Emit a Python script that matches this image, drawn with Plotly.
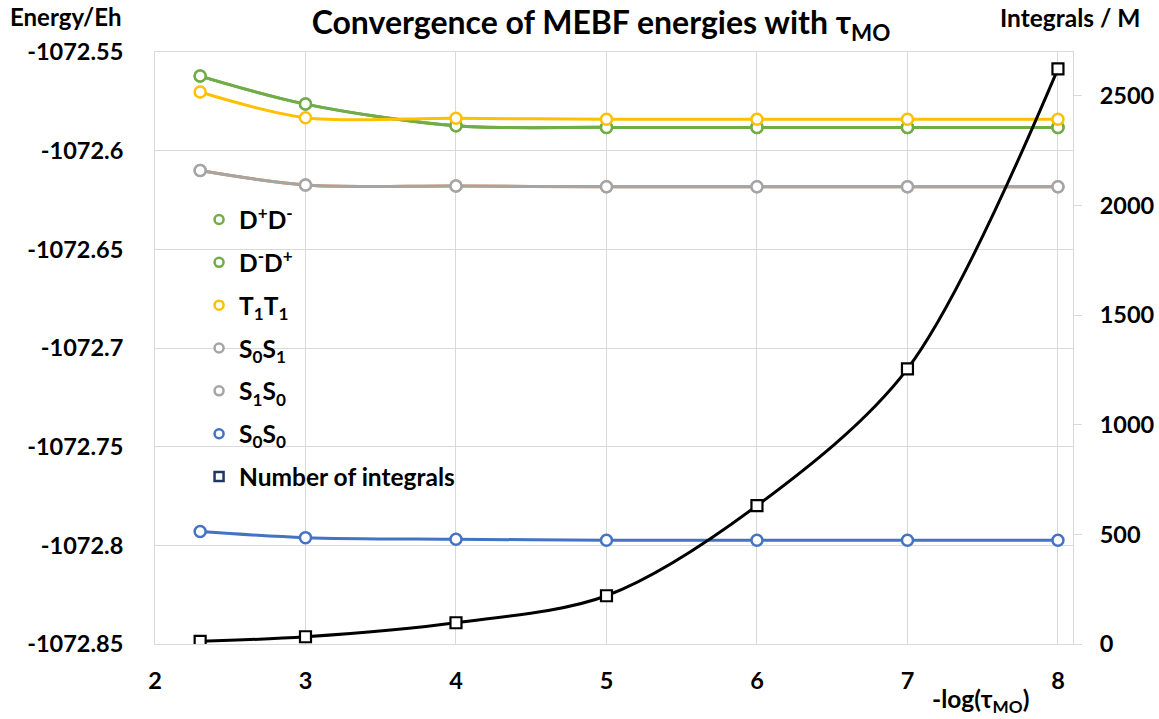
import plotly.graph_objects as go

x_vals = [2.3, 3, 4, 5, 6, 7, 8]
dpdm = [-1072.5622, -1072.5764, -1072.5874, -1072.5882, -1072.5882, -1072.5882, -1072.5882]
dmdp = [-1072.5622, -1072.5764, -1072.5874, -1072.5882, -1072.5882, -1072.5882, -1072.5882]
t1t1 = [-1072.5703, -1072.5833, -1072.5836, -1072.5841, -1072.5841, -1072.5841, -1072.5841]
s0s1 = [-1072.6101, -1072.6174, -1072.6179, -1072.6183, -1072.6183, -1072.6183, -1072.6183]
s1s0 = [-1072.6101, -1072.6174, -1072.6179, -1072.6183, -1072.6183, -1072.6183, -1072.6183]
s0s0 = [-1072.7930, -1072.7961, -1072.7969, -1072.7974, -1072.7974, -1072.7974, -1072.7974]
n_integrals = [12, 33, 97, 220, 631, 1255, 2623]

left_ticks = [-1072.85, -1072.8, -1072.75, -1072.7, -1072.65, -1072.6, -1072.55]
left_ticktext = ["-1072.85", "-1072.8", "-1072.75", "-1072.7", "-1072.65", "-1072.6", "-1072.55"]
right_ticks = [0, 500, 1000, 1500, 2000, 2500]
x_ticks = [2, 3, 4, 5, 6, 7, 8]

FONT = "Lato"
GRID = "#D9D9D9"
TICK_SIZE = 23.5
LEG_SIZE = 24.5

series = [
    ("D<sup>+</sup>D<sup>-</sup>", dpdm, "#70AD47", "#70AD47"),
    ("D<sup>-</sup>D<sup>+</sup>", dmdp, "#70AD47", "#70AD47"),
    ("T<sub>1</sub>T<sub>1</sub>", t1t1, "#FFC000", "#FFC000"),
    ("S<sub>0</sub>S<sub>1</sub>", s0s1, "#ED7D31", "#A5A5A5"),
    ("S<sub>1</sub>S<sub>0</sub>", s1s0, "#A5A5A5", "#A5A5A5"),
    ("S<sub>0</sub>S<sub>0</sub>", s0s0, "#4472C4", "#4472C4"),
]

fig = go.Figure()
for i, (name, ys, lc, mc) in enumerate(series):
    fig.add_trace(go.Scatter(
        x=x_vals, y=ys, name=name, mode="lines+markers",
        line=dict(color=lc, width=3, shape="spline", smoothing=0.9),
        marker=dict(symbol="circle", size=11, color="white",
                    line=dict(color=mc, width=2.5)),
        showlegend=False, yaxis="y",
    ))

fig.add_trace(go.Scatter(
    x=x_vals, y=n_integrals, name="Number of integrals", mode="lines+markers",
    line=dict(color="black", width=3, shape="spline", smoothing=0.9),
    marker=dict(symbol="square", size=11, color="white",
                line=dict(color="black", width=2.2)),
    showlegend=False, yaxis="y2",
))

# legend entries (marker only, as in the reference legend)
legend_items = [(name, mc, "circle") for (name, ys, lc, mc) in series]
legend_items.append(("Number of integrals", "#1F3864", "square"))
for i, (name, mc, sym) in enumerate(legend_items):
    fig.add_trace(go.Scatter(
        x=[None], y=[None], name=name, mode="markers",
        marker=dict(symbol=sym, size=9, color="white", line=dict(color=mc, width=2.5)),
        legendgroup=f"g{i}", showlegend=True,
    ))

fig.update_layout(
    width=1159, height=719,
    margin=dict(l=155, r=86, t=52, b=75, autoexpand=False),
    paper_bgcolor="white", plot_bgcolor="white",
    font=dict(family=FONT, size=TICK_SIZE, color="black", weight=700),
    showlegend=True,
    legend=dict(x=0.048, y=0.755, xanchor="left", yanchor="top",
                bgcolor="rgba(0,0,0,0)", tracegroupgap=8,
                font=dict(family=FONT, size=LEG_SIZE, color="black", weight=700),
                itemwidth=30),
    title=dict(text="Convergence of MEBF energies with τ<sub>MO</sub>",
               x=601 / 1159, xref="container", xanchor="center",
               y=1 - 23 / 719, yref="container", yanchor="middle",
               font=dict(family=FONT, size=32, color="black", weight=700)),
    xaxis=dict(range=[2, 8.1], tickvals=x_ticks, ticktext=[str(v) for v in x_ticks],
               showgrid=True, gridcolor=GRID, gridwidth=1,
               showline=True, linecolor=GRID, linewidth=1, mirror=True,
               ticks="", ticklabelstandoff=16, zeroline=False, automargin=False,
               tickfont=dict(family=FONT, size=TICK_SIZE, weight=700)),
    yaxis=dict(range=[-1072.85, -1072.55], tickvals=left_ticks, ticktext=left_ticktext,
               showgrid=True, gridcolor=GRID, gridwidth=1,
               showline=True, linecolor=GRID, linewidth=1, mirror=True,
               ticks="", ticklabelstandoff=26, zeroline=False, automargin=False,
               tickfont=dict(family=FONT, size=TICK_SIZE, weight=700)),
    yaxis2=dict(range=[0, 2700], tickvals=right_ticks,
                overlaying="y", side="right", showgrid=False, zeroline=False,
                showline=False, ticks="outside", ticklen=8, tickcolor=GRID,
                ticklabelstandoff=13, automargin=False,
                tickfont=dict(family=FONT, size=TICK_SIZE, weight=700)),
    annotations=[
        dict(text="Energy/Eh", x=8, y=16, xref="paper", yref="paper",
             showarrow=False, xanchor="left", yanchor="middle",
             font=dict(family=FONT, size=24, weight=700)),
        dict(text="Integrals / M", x=1143, y=18, xref="paper", yref="paper",
             showarrow=False, xanchor="right", yanchor="middle",
             font=dict(family=FONT, size=24.5, weight=700)),
        dict(text="-log(τ<sub>MO</sub>)", x=980, y=700, xref="paper", yref="paper",
             showarrow=False, xanchor="center", yanchor="middle",
             font=dict(family=FONT, size=24.5, weight=700)),
    ],
)

# convert pixel-specified annotation positions to paper coordinates
W, H = 1159, 719
l, r, t, b = 155, 86, 52, 75
pw, ph = W - l - r, H - t - b
anns = []
for a in fig.layout.annotations:
    px, py = a.x, a.y
    a.x = (px - l) / pw
    a.y = (H - b - py) / ph
    anns.append(a)
fig.layout.annotations = anns

fig.write_html("out.html")
